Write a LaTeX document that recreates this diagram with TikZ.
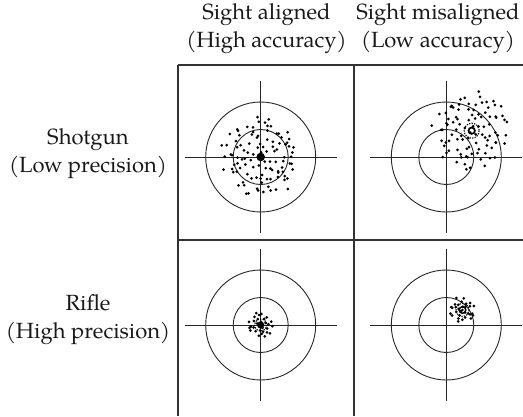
\documentclass[tikz,border=0pt]{standalone}
\usepackage{fontspec}
\setmainfont{texgyrepagella-regular.otf}
\begin{document}
\begin{tikzpicture}[x=1pt,y=-1pt,
  grid/.style={line width=1.5pt,draw=black!80},
  ring/.style={line width=0.9pt,draw=black!85},
  cross/.style={line width=0.9pt,draw=black!85},
  lbl/.style={align=center,font=\fontsize{22}{28}\selectfont,inner sep=0pt,text=black!90},
  shot/.style={fill=black}]
\useasboundingbox (0,0) rectangle (523,416);
\pgfmathsetseed{4711}
% grid
\coordinate (tl) at (178,65);
\coordinate (tr) at (523,65);
\coordinate (ml) at (178,240);
\coordinate (mr) at (523,240);
\coordinate (bl) at (178,416);
\coordinate (tm) at (354,65);
\coordinate (bm) at (354,416);
\draw[grid] (tl) -- (tr);
\draw[grid] (ml) -- (mr);
\draw[grid] (tl) -- (bl);
\draw[grid] (tm) -- (bm);
% labels
\node[lbl] (h1) at (266.5,29) {Sight aligned\\(High accuracy)};
\node[lbl] (h2) at (438,29) {Sight misaligned\\(Low accuracy)};
\node[lbl] (r1) at (88,154) {Shotgun\\(Low precision)};
\node[lbl] (r2) at (88,320) {Rifle\\(High precision)};
% targets
\foreach \cx/\cy [count=\t] in {260.7/157,446.3/157,260.7/325,446.3/325}{
  \coordinate (c\t) at (\cx,\cy);
  \draw[ring] (c\t) circle[radius=55];
  \draw[ring] (c\t) circle[radius=27.5];
  \draw[cross] (\cx-76,\cy) -- (\cx+76,\cy);
  \draw[cross] (\cx,\cy-76) -- (\cx,\cy+76);
}
% shots: sunflower pattern with jitter
\newcommand\myshots[5]{%
  \foreach \k in {1,...,#4}{%
    \pgfmathsetmacro\myang{\k*137.508+#5*rand}%
    \pgfmathsetmacro\myrad{#3*sqrt((\k-0.5)/#4)*(1+0.12*rand)}%
    \pgfmathsetmacro\myx{#1+\myrad*cos(\myang)}%
    \pgfmathsetmacro\myy{#2+\myrad*sin(\myang)}%
    \fill[shot] (\myx,\myy) circle[radius=1.5];
  }}
\myshots{260.7}{157}{39}{105}{12}
\fill[shot] (260.7,157) circle[radius=4.3];
\myshots{472}{130.5}{37}{95}{12}
\draw[line width=1.7pt] (471.7,130.7) circle[radius=3.2];
\draw[line width=1.1pt,dash pattern=on 1.3pt off 1.2pt] (471.7,130.7) circle[radius=7.5];
\myshots{260.7}{325}{13}{30}{15}
\fill[shot] (260.7,325) circle[radius=3.6];
\draw[line width=1.1pt,dash pattern=on 1.3pt off 1.2pt] (260.7,325) circle[radius=6];
\myshots{462.5}{310}{13}{30}{15}
\draw[line width=1.5pt] (462.5,310) circle[radius=3.3];
\fill[shot] (462.5,310) circle[radius=1.3];
\draw[line width=1.1pt,dash pattern=on 1.3pt off 1.2pt] (462.5,310) circle[radius=6.5];
\end{tikzpicture}
\end{document}
